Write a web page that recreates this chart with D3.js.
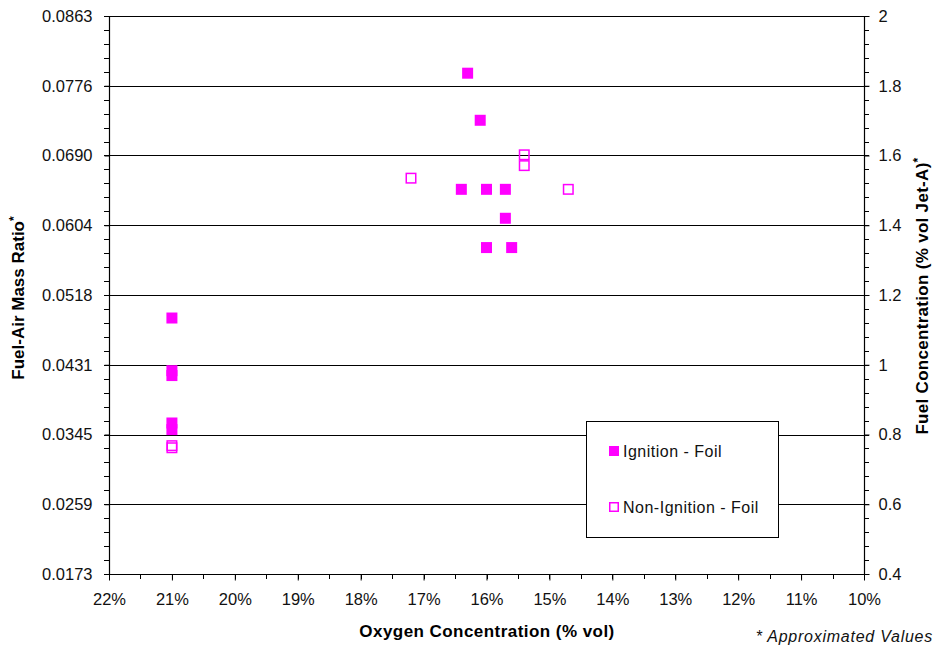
<!DOCTYPE html>
<html>
<head>
<meta charset="utf-8">
<script src="https://cdn.jsdelivr.net/npm/d3@7"></script>
<style>
  html, body { margin: 0; padding: 0; background: #fff; }
  svg { display: block; font-family: "Liberation Sans", Arial, sans-serif; }
</style>
</head>
<body>
<svg id="chart" width="943" height="653"></svg>
<script>
// Oxygen concentration (% vol) vs fuel concentration (% vol Jet-A)
const ignitionO2   = [16.3, 16.1, 16.4, 16.0, 15.7, 15.7, 16.0, 15.6, 21.0, 21.0, 21.0, 21.0, 21.0];
const ignitionFuel = [1.836, 1.701, 1.503, 1.503, 1.503, 1.420, 1.336, 1.336, 1.134, 0.983, 0.969, 0.833, 0.814];

const nonIgnitionO2   = [15.4, 15.4, 17.2, 14.7, 21.0, 21.0];
const nonIgnitionFuel = [1.602, 1.571, 1.535, 1.503, 0.768, 0.762];

const xTickValues = [22, 21, 20, 19, 18, 17, 16, 15, 14, 13, 12, 11, 10];
const rightTickValues = [0.4, 0.6, 0.8, 1.0, 1.2, 1.4, 1.6, 1.8, 2.0];
const rightTickLabels = ["0.4", "0.6", "0.8", "1", "1.2", "1.4", "1.6", "1.8", "2"];
const leftTickLabels = ["0.0173", "0.0259", "0.0345", "0.0431", "0.0518", "0.0604", "0.0690", "0.0776", "0.0863"];

const seriesNames = ["Ignition - Foil", "Non-Ignition - Foil"];
const magenta = "#ff00ff";

const svg = d3.select("#chart");
const plotLeft = 109, plotRight = 864, plotTop = 16, plotBottom = 574;

const x = d3.scaleLinear().domain([22, 10]).range([plotLeft, plotRight]);
const yR = d3.scaleLinear().domain([0.4, 2.0]).range([plotBottom, plotTop]);
const yL = d3.scaleLinear()
  .domain([+leftTickLabels[0], +leftTickLabels[leftTickLabels.length - 1]])
  .range([plotBottom, plotTop]);
const leftTickValues = rightTickValues.map(v => yL.invert(yR(v)));

const snap = v => Math.round(v) + 0.5;

// horizontal gridlines at every major tick
svg.append("g").selectAll("line")
  .data(rightTickValues)
  .join("line")
  .attr("x1", plotLeft).attr("x2", plotRight)
  .attr("y1", d => snap(yR(d)))
  .attr("y2", d => snap(yR(d)))
  .attr("stroke", "#000").attr("stroke-width", 1.2);

function styleAxis(g) {
  g.select(".domain").attr("stroke", "#000").attr("stroke-width", 1.2);
  g.selectAll(".tick line").attr("stroke", "#000");
  g.selectAll(".tick text").attr("fill", "#111").style("font-size", "16.5px")
    .style("font-family", "'Liberation Sans', Arial, sans-serif");
}

// minor ticks
const minorY = d3.range(0, 41).map(i => 0.4 + i * 0.04);
const minorX = d3.range(0, 25).map(i => 10 + i * 0.5);

svg.append("g").selectAll("line").data(minorY).join("line")
  .attr("x1", plotLeft - 5).attr("x2", plotLeft)
  .attr("y1", d => snap(yR(d))).attr("y2", d => snap(yR(d)))
  .attr("stroke", "#000");
svg.append("g").selectAll("line").data(minorY).join("line")
  .attr("x1", plotRight).attr("x2", plotRight + 5)
  .attr("y1", d => snap(yR(d))).attr("y2", d => snap(yR(d)))
  .attr("stroke", "#000");
svg.append("g").selectAll("line").data(minorX).join("line")
  .attr("x1", d => snap(x(d))).attr("x2", d => snap(x(d)))
  .attr("y1", plotBottom).attr("y2", plotBottom + 5)
  .attr("stroke", "#000");

// axes
const xAxis = svg.append("g")
  .attr("transform", `translate(0,${plotBottom + 0.5})`)
  .call(d3.axisBottom(x).tickValues(xTickValues).tickFormat(d => d + "%").tickSize(6).tickPadding(13))
  .call(styleAxis);

const leftAxis = svg.append("g")
  .attr("transform", `translate(${plotLeft + 0.5},0)`)
  .call(d3.axisLeft(yL).tickValues(leftTickValues).tickFormat((d, i) => leftTickLabels[i]).tickSize(5).tickPadding(12))
  .call(styleAxis);

const rightAxis = svg.append("g")
  .attr("transform", `translate(${plotRight + 0.5},0)`)
  .call(d3.axisRight(yR).tickValues(rightTickValues).tickFormat((d, i) => rightTickLabels[i]).tickSize(5).tickPadding(9))
  .call(styleAxis);

// plain axis lines without end caps
xAxis.select(".domain").attr("d", `M${plotLeft},0H${plotRight}`);
leftAxis.select(".domain").attr("d", `M0,${plotTop}V${plotBottom}`);
rightAxis.select(".domain").attr("d", `M0,${plotTop}V${plotBottom}`);

// data markers
const ignition = ignitionO2.map((o, i) => ({ o, f: ignitionFuel[i] }));
const nonIgnition = nonIgnitionO2.map((o, i) => ({ o, f: nonIgnitionFuel[i] }));
const s = 11;

svg.append("g").selectAll("rect").data(ignition).join("rect")
  .attr("x", d => x(d.o) - s / 2).attr("y", d => yR(d.f) - s / 2)
  .attr("width", s).attr("height", s)
  .attr("fill", magenta);

svg.append("g").selectAll("rect").data(nonIgnition).join("rect")
  .attr("x", d => x(d.o) - s / 2 + 0.75).attr("y", d => yR(d.f) - s / 2 + 0.75)
  .attr("width", s - 1.5).attr("height", s - 1.5)
  .attr("fill", "none").attr("stroke", magenta).attr("stroke-width", 1.5);

// legend
const lg = svg.append("g");
lg.append("rect").attr("x", 586.5).attr("y", 421.5).attr("width", 192).attr("height", 116)
  .attr("fill", "#fff").attr("stroke", "#000").attr("stroke-width", 1);
lg.append("rect").attr("x", 609).attr("y", 446).attr("width", 10).attr("height", 10).attr("fill", magenta);
lg.append("rect").attr("x", 609.75).attr("y", 502.75).attr("width", 8.5).attr("height", 8.5)
  .attr("fill", "none").attr("stroke", magenta).attr("stroke-width", 1.5);
lg.append("text").attr("x", 623).attr("y", 457).text(seriesNames[0])
  .attr("fill", "#111").style("font-size", "16px").style("letter-spacing", "0.5px");
lg.append("text").attr("x", 623).attr("y", 513).text(seriesNames[1])
  .attr("fill", "#111").style("font-size", "16px").style("letter-spacing", "0.5px");

// axis titles
svg.append("text").attr("x", 487).attr("y", 637).attr("text-anchor", "middle")
  .style("font-size", "17px").style("font-weight", "bold").style("letter-spacing", "0.45px")
  .attr("fill", "#000")
  .text("Oxygen Concentration (% vol)");

const lt = svg.append("text").attr("transform", "translate(24,298) rotate(-90)")
  .attr("text-anchor", "middle").style("font-size", "17px").style("font-weight", "bold").attr("fill", "#000");
lt.append("tspan").text("Fuel-Air Mass Ratio");
lt.append("tspan").attr("dy", -6).style("font-size", "12px").text("*");

const rt = svg.append("text").attr("transform", "translate(928,296) rotate(-90)")
  .attr("text-anchor", "middle").style("font-size", "17px").style("font-weight", "bold")
  .style("letter-spacing", "0.3px").attr("fill", "#000");
rt.append("tspan").text("Fuel Concentration (% vol Jet-A)");
rt.append("tspan").attr("dy", -6).style("font-size", "12px").text("*");

svg.append("text").attr("x", 933).attr("y", 642).attr("text-anchor", "end")
  .style("font-size", "16px").style("font-style", "italic").style("letter-spacing", "0.75px")
  .attr("fill", "#111")
  .text("* Approximated Values");
</script>
</body>
</html>
